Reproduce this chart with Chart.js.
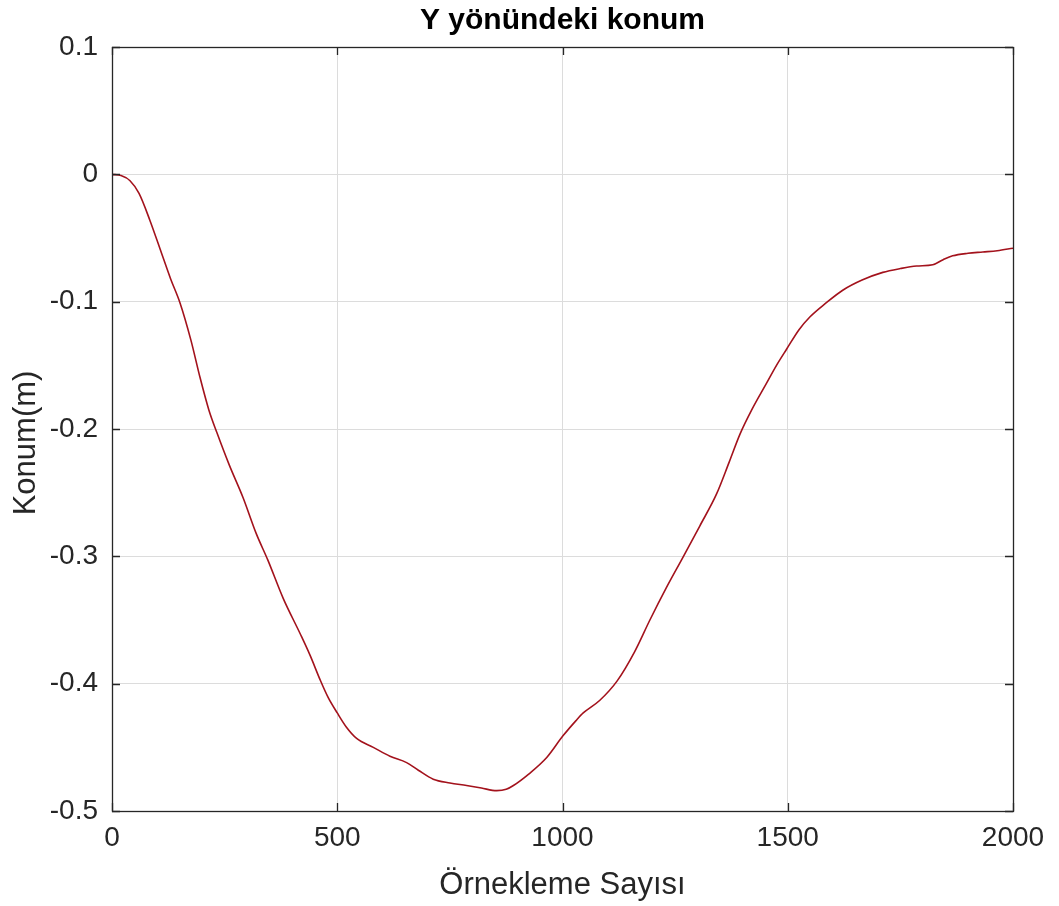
<!DOCTYPE html>
<html>
<head>
<meta charset="utf-8">
<style>
  html, body { margin: 0; padding: 0; background: #ffffff; }
  #wrap { width: 1059px; height: 906px; }
</style>
<script src="https://cdn.jsdelivr.net/npm/chart.js@4.4.1/dist/chart.umd.min.js"></script>
</head>
<body>
<div id="wrap"><canvas id="c" width="1059" height="906"></canvas></div>
<script>
// Sample index (x) and Y-direction position in metres
const sampleIndex = [
  0, 20, 40, 60, 84, 110, 130, 151, 175, 195, 215, 233, 260, 291, 320, 346,
  380, 418, 440, 462, 480, 500, 520, 543, 580, 617, 654, 680, 713, 750, 787,
  820, 854, 875, 891, 925, 965, 1001, 1030, 1046, 1083, 1121, 1160, 1194,
  1230, 1267, 1305, 1342, 1370, 1394, 1420, 1453, 1475, 1498, 1525, 1549,
  1585, 1622, 1665, 1711, 1750, 1786, 1822, 1845, 1866, 1900, 1933, 1965, 2000
];
const positionY = [
  0, -0.001, -0.005, -0.015, -0.036, -0.062, -0.082, -0.101, -0.130, -0.159,
  -0.185, -0.203, -0.228, -0.254, -0.282, -0.303, -0.333, -0.361, -0.378,
  -0.397, -0.411, -0.423, -0.434, -0.443, -0.450, -0.457, -0.462, -0.468,
  -0.475, -0.478, -0.480, -0.482, -0.484, -0.483, -0.480, -0.471, -0.458,
  -0.441, -0.429, -0.423, -0.413, -0.398, -0.375, -0.350, -0.325, -0.301,
  -0.276, -0.251, -0.226, -0.204, -0.185, -0.164, -0.150, -0.137, -0.122,
  -0.112, -0.101, -0.091, -0.083, -0.077, -0.074, -0.072, -0.071, -0.067,
  -0.064, -0.062, -0.061, -0.060, -0.058
];
const xTickValues = [0, 500, 1000, 1500, 2000];
const yTickValues = [0.1, 0, -0.1, -0.2, -0.3, -0.4, -0.5];
const yTickLabels = ['0.1', '0', '-0.1', '-0.2', '-0.3', '-0.4', '-0.5'];
const yAxisTitle = 'Konum(m)';

const FONT = "'Liberation Sans', Arial, Helvetica, sans-serif";
const AXIS_COLOR = '#262626';

// Box around the axes with inward tick marks on all four sides
const boxFrame = {
  id: 'boxFrame',
  afterDatasetsDraw(chart) {
    const { ctx, chartArea: a, scales } = chart;
    const len = 8;
    ctx.save();
    ctx.strokeStyle = AXIS_COLOR;
    ctx.lineWidth = 1.3;
    ctx.strokeRect(a.left + 0.5, a.top + 0.5, a.right - a.left, a.bottom - a.top);
    ctx.beginPath();
    xTickValues.forEach(v => {
      const px = Math.round(scales.x.getPixelForValue(v)) + 0.5;
      ctx.moveTo(px, a.bottom); ctx.lineTo(px, a.bottom - len);
      ctx.moveTo(px, a.top); ctx.lineTo(px, a.top + len);
    });
    yTickValues.forEach(v => {
      const py = Math.round(scales.y.getPixelForValue(v)) + 0.5;
      ctx.moveTo(a.left, py); ctx.lineTo(a.left + len, py);
      ctx.moveTo(a.right, py); ctx.lineTo(a.right - len, py);
    });
    ctx.stroke();
    ctx.restore();
  }
};

// Rotated y-axis caption, sitting slightly below the middle of the axis
const yCaption = {
  id: 'yCaption',
  afterDraw(chart) {
    const { ctx, chartArea: a } = chart;
    ctx.save();
    ctx.translate(26, (a.top + a.bottom) / 2 + 14);
    ctx.rotate(-Math.PI / 2);
    ctx.fillStyle = AXIS_COLOR;
    ctx.font = '31px ' + FONT;
    ctx.textAlign = 'center';
    ctx.textBaseline = 'middle';
    ctx.fillText(yAxisTitle, 0, 0);
    ctx.restore();
  }
};

new Chart(document.getElementById('c'), {
  type: 'line',
  data: {
    datasets: [{
      data: sampleIndex.map((x, i) => ({ x, y: positionY[i] })),
      borderColor: '#a3121c',
      borderWidth: 1.6,
      pointRadius: 0,
      fill: false,
      cubicInterpolationMode: 'monotone'
    }]
  },
  options: {
    responsive: false,
    animation: false,
    layout: { padding: { left: 0, right: 46, top: 0, bottom: 0 } },
    plugins: {
      legend: { display: false },
      tooltip: { enabled: false },
      title: {
        display: true,
        text: 'Y yönündeki konum',
        fullSize: false,
        color: '#000000',
        font: { family: FONT, size: 30, weight: 'bold' },
        padding: { top: 3, bottom: 8 }
      }
    },
    scales: {
      x: {
        type: 'linear',
        min: 0, max: 2000,
        afterFit(scale) { scale.height = 95; },
        afterBuildTicks(scale) { scale.ticks = xTickValues.map(v => ({ value: v })); },
        grid: { color: '#dcdcdc', lineWidth: 1, drawTicks: false },
        border: { display: false },
        ticks: {
          color: AXIS_COLOR,
          font: { family: FONT, size: 28 },
          padding: 10,
          maxRotation: 0,
          callback: v => String(v)
        },
        title: {
          display: true,
          text: 'Örnekleme Sayısı',
          color: AXIS_COLOR,
          font: { family: FONT, size: 31 },
          padding: { top: 0, bottom: 2 }
        }
      },
      y: {
        type: 'linear',
        min: -0.5, max: 0.1,
        afterFit(scale) { scale.width = 112; },
        afterBuildTicks(scale) { scale.ticks = yTickValues.map(v => ({ value: v })); },
        grid: { color: '#dcdcdc', lineWidth: 1, drawTicks: false },
        border: { display: false },
        ticks: {
          color: AXIS_COLOR,
          font: { family: FONT, size: 28 },
          padding: 14,
          callback: v => {
            const i = yTickValues.findIndex(t => Math.abs(t - v) < 1e-9);
            return i >= 0 ? yTickLabels[i] : '';
          }
        },
        title: { display: false }
      }
    }
  },
  plugins: [boxFrame, yCaption]
});
</script>
</body>
</html>
